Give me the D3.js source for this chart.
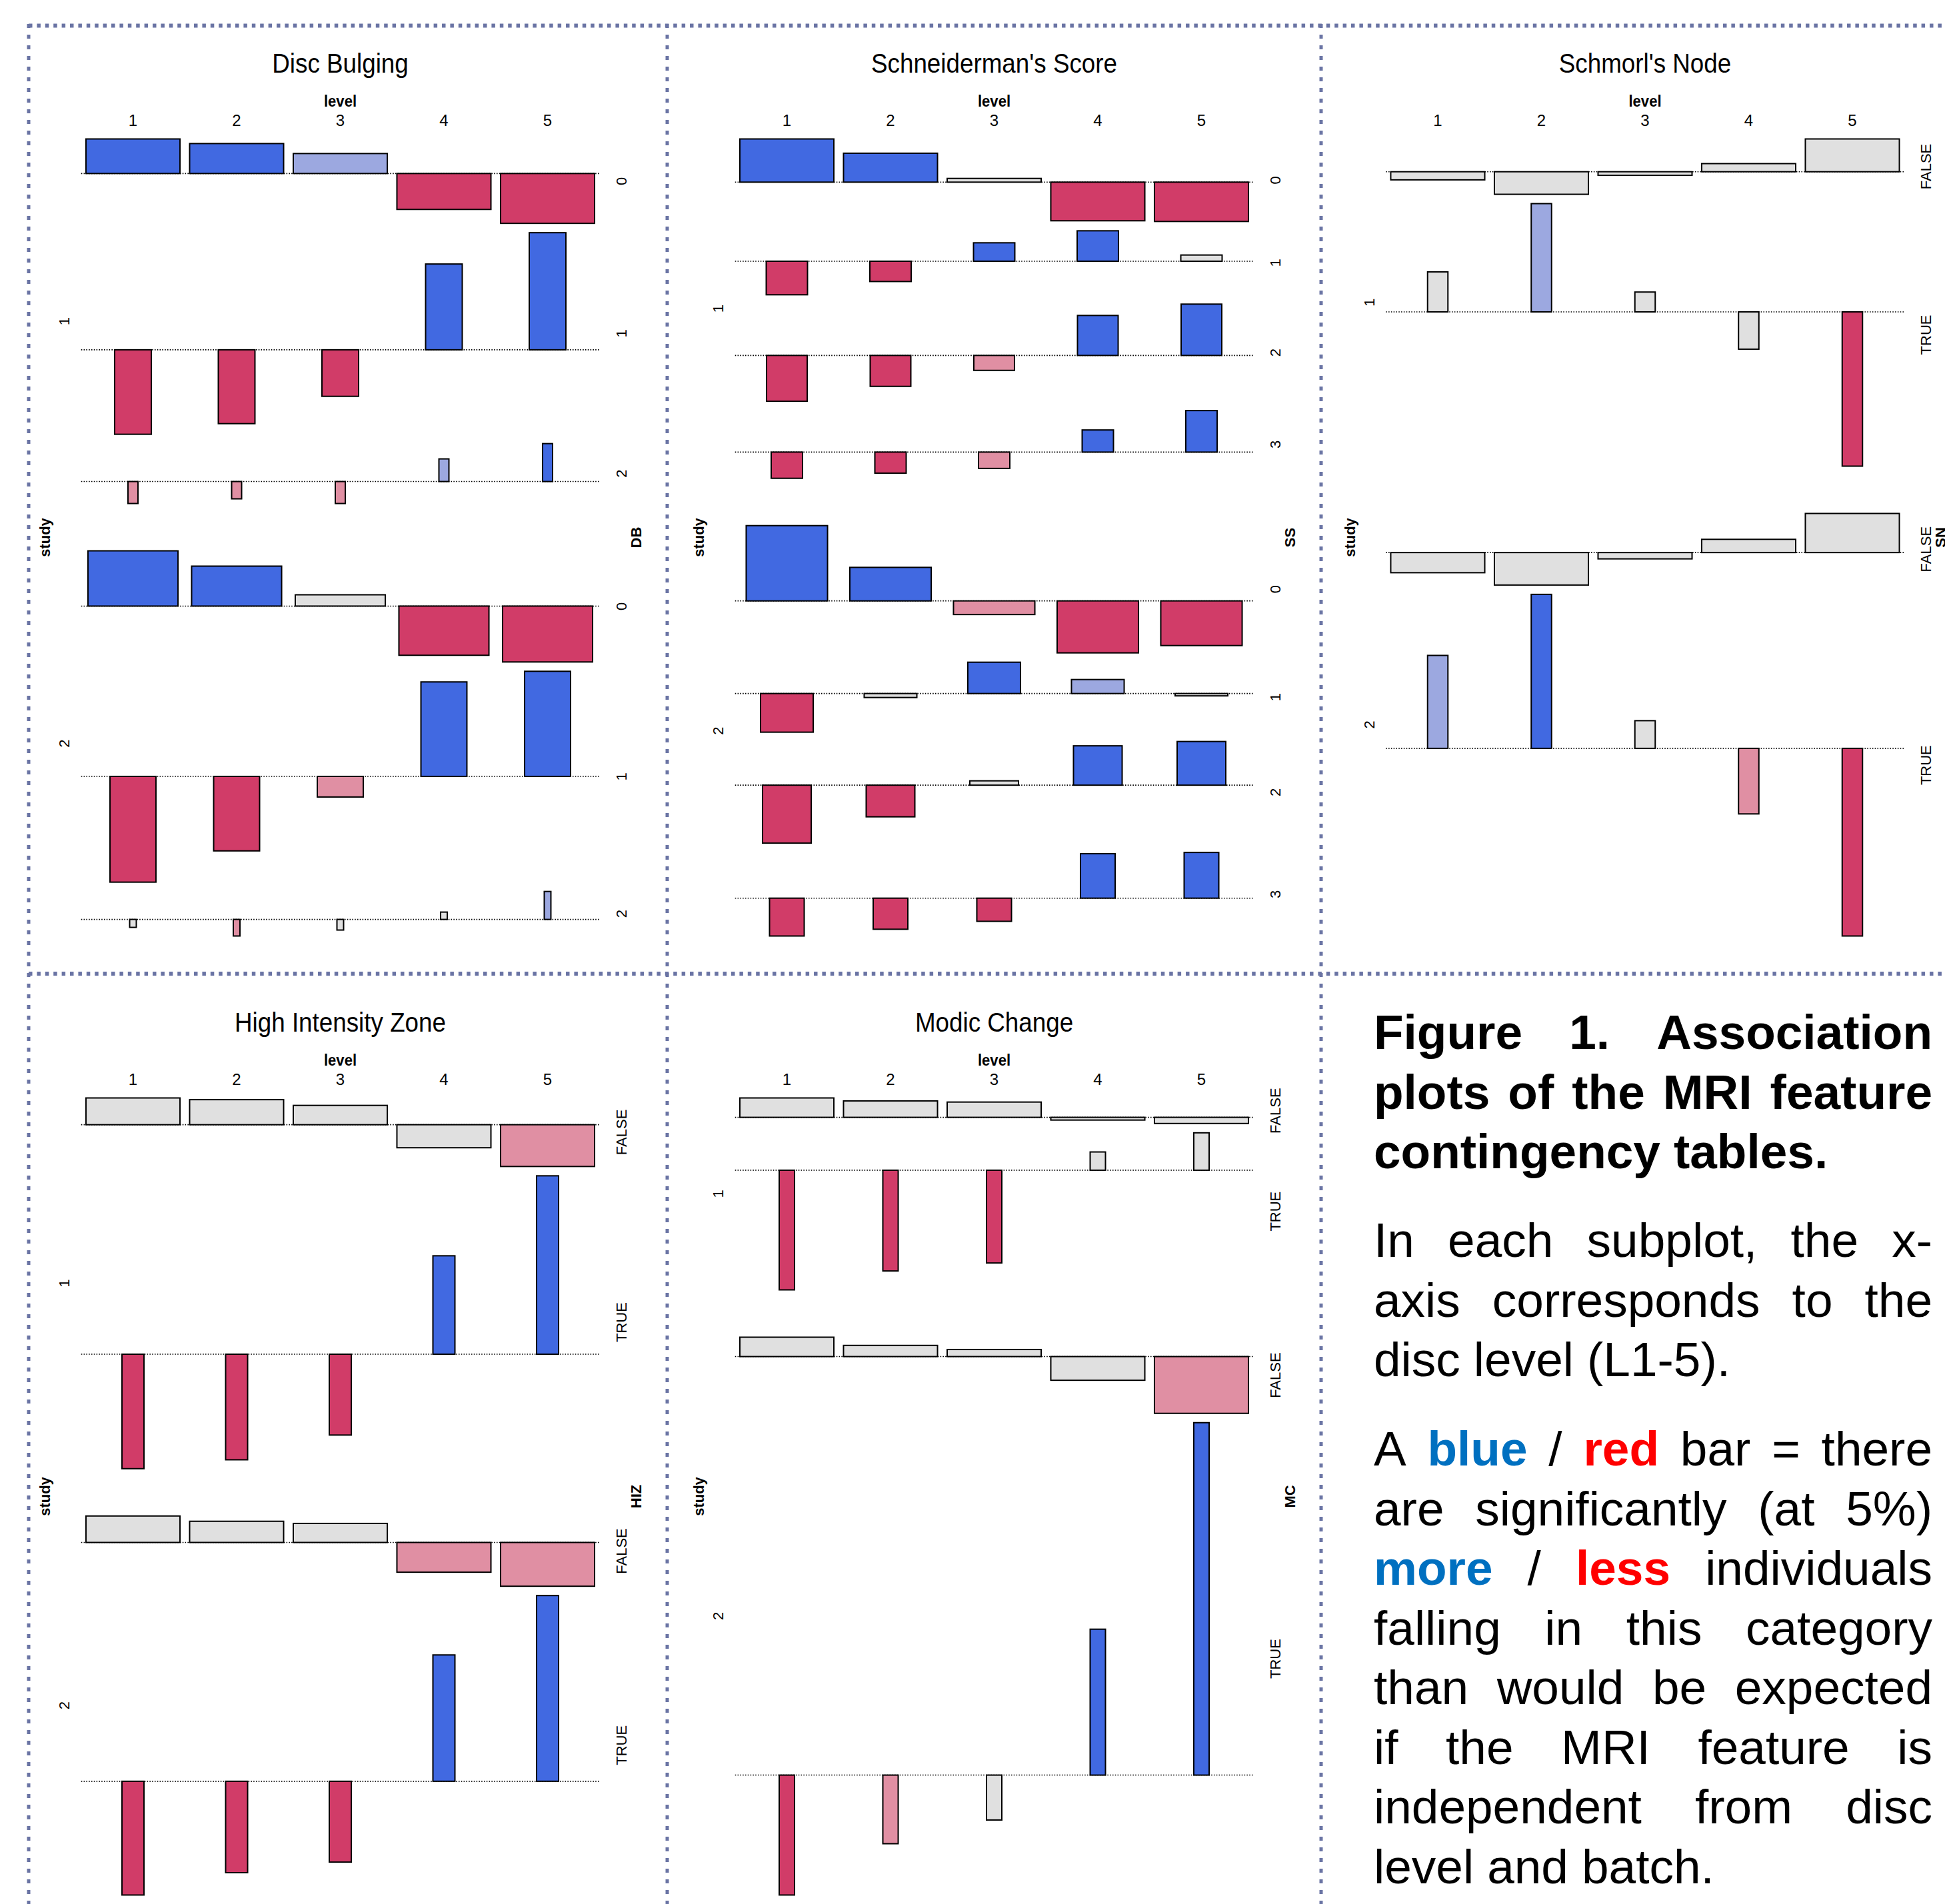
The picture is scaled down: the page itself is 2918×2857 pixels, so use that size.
<!DOCTYPE html>
<html>
<head>
<meta charset="utf-8">
<script src="https://cdn.jsdelivr.net/npm/d3@7"></script>
<style>
  body { margin: 0; background: #fff; }
  svg { display: block; }
</style>
</head>
<body>
<svg width="2918" height="2857"></svg>
<script>
// ---- data ----
var levels = ["1", "2", "3", "4", "5"];
var studies = ["1", "2"];
var tf = ["FALSE", "TRUE"];

// Disc Bulging
var dbLevels = ["0", "1", "2"];
var dbExpected = [[100, 15.2, 1.13], [91.7, 23.9, 0.5]];
var dbResiduals = [
    [[4.81, 4.17, 2.78, -5.0, -6.94], [-11.76, -10.28, -6.48, 11.94, 16.3], [-3.06, -2.41, -3.06, 3.15, 5.28]],
    [[7.69, 5.56, 1.57, -6.85, -7.78], [-14.72, -10.37, -2.87, 13.15, 14.63], [-1.11, -2.31, -1.48, 1.02, 3.89]]
];

// Schneiderman's Score
var ssLevels = ["0", "1", "2", "3"];
var ssExpected = [[100, 19.3, 18.7, 11.1], [74.9, 31.4, 26.8, 13.6]];
var ssResiduals = [
    [[9.97, 6.68, 0.86, -8.92, -9.08], [-7.75, -4.69, 4.25, 7.02, 1.43], [-10.58, -7.14, -3.45, 9.23, 11.85], [-6.05, -4.86, -3.77, 5.11, 9.58]],
    [[17.38, 7.74, -3.15, -12.0, -10.31], [-8.92, -0.92, 7.23, 3.23, -0.54], [-13.38, -7.31, 1.0, 9.08, 10.08], [-8.74, -7.18, -5.35, 10.26, 10.55]]
];

// Schmorl's Node
var snExpected = [[100, 4.68], [100, 4.68]];
var snResiduals = [
    [[-0.27, -0.75, -0.12, 0.27, 1.09], [1.33, 3.6, 0.66, -1.24, -5.13]],
    [[-0.67, -1.08, -0.21, 0.44, 1.3], [3.09, 5.12, 0.92, -2.18, -6.24]]
];

// High Intensity Zone
var hizExpected = [[100, 5.48], [100, 5.48]];
var hizResiduals = [
    [[1.87, 1.75, 1.35, -1.61, -2.92], [-8.0, -7.38, -5.65, 6.88, 12.47]],
    [[1.85, 1.48, 1.33, -2.08, -3.06], [-7.95, -6.39, -5.65, 8.83, 12.98]]
];

// Modic Change
var mcExpected = [[100, 2.66], [100, 2.66]];
var mcResiduals = [
    [[0.85, 0.72, 0.67, -0.12, -0.27], [-5.25, -4.42, -4.07, 0.8, 1.64]],
    [[0.85, 0.49, 0.31, -1.04, -2.49], [-5.26, -3.01, -1.97, 6.4, 15.46]]
];

var captionTitle = ["Figure 1. Association", "plots of the MRI feature", "contingency tables."];
var captionAxis = ["In each subplot, the x-", "axis corresponds to the", "disc level (L1-5)."];
var captionColour = ["A blue / red bar = there", "are significantly (at 5%)", "more / less individuals",
    "falling in this category", "than would be expected", "if the MRI feature is",
    "independent from disc", "level and batch."];

// ---- layout ----
var font = "Liberation Sans, Arial, Helvetica, sans-serif";
var band = 155.5;
var gapIn = 14, gapOut = 71;
var plotH = 1196;

var panels = [
    { title: "Disc Bulging", name: "DB", rowLevels: dbLevels, expected: dbExpected, residuals: dbResiduals, cx: 199.5, t: 109 },
    { title: "Schneiderman's Score", name: "SS", rowLevels: ssLevels, expected: ssExpected, residuals: ssResiduals, cx: 1180.5, t: 109 },
    { title: "Schmorl's Node", name: "SN", rowLevels: tf, expected: snExpected, residuals: snResiduals, cx: 2157, t: 109 },
    { title: "High Intensity Zone", name: "HIZ", rowLevels: tf, expected: hizExpected, residuals: hizResiduals, cx: 199.5, t: 1548 },
    { title: "Modic Change", name: "MC", rowLevels: tf, expected: mcExpected, residuals: mcResiduals, cx: 1180.5, t: 1548 }
];

var svg = d3.select("svg");
svg.append("rect").attr("width", 2918).attr("height", 2857).attr("fill", "#fff");

function shade(v) {
    var a = Math.abs(v);
    if (a >= 4) return v > 0 ? "#4169E1" : "#D13C68";
    if (a >= 2) return v > 0 ? "#9CA8E0" : "#E08FA3";
    return "#E0E0E0";
}

function vtext(g, x, y, txt, bold) {
    g.append("text")
        .attr("transform", "translate(" + x + "," + y + ") rotate(-90)")
        .attr("text-anchor", "middle")
        .attr("dominant-baseline", "central")
        .attr("font-family", font)
        .attr("font-size", 22)
        .attr("font-weight", bold ? "bold" : "normal")
        .text(txt);
}

function drawPanel(p) {
    var g = svg.append("g");
    var x0 = p.cx - band / 2;
    var x = d3.scaleBand().domain(levels).range([x0, x0 + band * levels.length]);
    var maxE = d3.max(p.expected, function(r) { return d3.max(r); });
    var w = d3.scaleSqrt().domain([0, maxE]).range([0, x.bandwidth() * 0.907]);

    var rows = [];
    studies.forEach(function(s, si) {
        p.rowLevels.forEach(function(lv, ri) {
            var res = p.residuals[si][ri];
            rows.push({ si: si, label: lv, E: p.expected[si][ri], res: res,
                up: Math.max(0, d3.max(res)), down: Math.max(0, -d3.min(res)) });
        });
    });
    var total = d3.sum(rows, function(r) { return r.up + r.down; });
    var avail = plotH - (rows.length - studies.length) * gapIn - (studies.length - 1) * gapOut;
    var y = d3.scaleLinear().domain([0, total]).range([0, avail]);

    var top = p.t + 99.5;
    var cur = top;
    rows.forEach(function(r, i) {
        if (i > 0) cur += (r.si !== rows[i - 1].si) ? gapOut : gapIn;
        r.y0 = cur;
        r.base = cur + y(r.up);
        r.y1 = r.base + y(r.down);
        cur = r.y1;
    });
    var bottom = cur;

    // title + level axis
    g.append("text")
        .attr("transform", "translate(" + (x0 + band * 2.5) + "," + p.t + ") scale(0.92,1)")
        .attr("text-anchor", "middle")
        .attr("font-family", font)
        .attr("font-size", 40)
        .text(p.title);
    g.append("text")
        .attr("transform", "translate(" + (x0 + band * 2.5) + "," + (p.t + 51) + ") scale(0.92,1)")
        .attr("text-anchor", "middle")
        .attr("font-family", font)
        .attr("font-weight", "bold")
        .attr("font-size", 24)
        .text("level");
    var ax = g.append("g")
        .attr("transform", "translate(0," + (p.t + 80) + ")")
        .call(d3.axisTop(x).tickSize(0).tickPadding(0));
    ax.select(".domain").remove();
    ax.selectAll("text").attr("font-family", font).attr("font-size", 24).attr("fill", "#000");

    // baselines
    g.selectAll(".base")
        .data(rows)
        .enter()
        .append("line")
        .attr("x1", x.range()[0])
        .attr("x2", x.range()[1])
        .attr("y1", function(r) { return r.base; })
        .attr("y2", function(r) { return r.base; })
        .attr("stroke", "#000")
        .attr("stroke-width", 1.6)
        .attr("stroke-dasharray", "1.6,2.2");

    // bars
    rows.forEach(function(r) {
        var bw = w(r.E);
        g.selectAll(null)
            .data(r.res)
            .enter()
            .append("rect")
            .attr("x", function(v, i) { return x(levels[i]) + x.bandwidth() / 2 - bw / 2; })
            .attr("y", function(v) { return v > 0 ? r.base - y(v) : r.base; })
            .attr("width", bw)
            .attr("height", function(v) { return y(Math.abs(v)); })
            .attr("fill", shade)
            .attr("stroke", "#000")
            .attr("stroke-width", 2);
    });

    // row labels (right) and study labels (left)
    var x1 = x.range()[1];
    rows.forEach(function(r) { vtext(g, x1 + 33, (r.y0 + r.y1) / 2, r.label, false); });
    vtext(g, x1 + 55, (top + bottom) / 2, p.name, true);
    studies.forEach(function(s, si) {
        var sr = rows.filter(function(r) { return r.si === si; });
        vtext(g, x0 - 25, (sr[0].y0 + sr[sr.length - 1].y1) / 2, s, false);
    });
    vtext(g, x0 - 54, (top + bottom) / 2, "study", true);
}

panels.forEach(drawPanel);

// dashed frame
var frame = svg.append("g").attr("stroke", "#6A74A4").attr("stroke-width", 6);
[[43, 38.5, 2918, 38.5], [43, 1461, 2918, 1461]].forEach(function(l) {
    frame.append("line").attr("x1", l[0]).attr("y1", l[1]).attr("x2", l[2]).attr("y2", l[3])
        .attr("stroke-dasharray", "5.5,6.9");
});
[[43, 36, 43, 2857], [1001, 36, 1001, 2857], [1982, 36, 1982, 2857]].forEach(function(l) {
    frame.append("line").attr("x1", l[0]).attr("y1", l[1]).attr("x2", l[2]).attr("y2", l[3])
        .attr("stroke-width", 5)
        .attr("stroke-dasharray", "6,10");
});

// caption
var highlight = { blue: "#0070C0", more: "#0070C0", red: "#FF0000", less: "#FF0000" };
var cap = svg.append("g").attr("font-family", font).attr("font-size", 73);
var capLeft = 2061, capRight = 2899, lineH = 89.5;

function writeParagraph(lines, y0, bold) {
    lines.forEach(function(line, li) {
        var words = line.split(" ");
        var yy = y0 + li * lineH;
        var nodes = words.map(function(wd) {
            return cap.append("text")
                .attr("y", yy)
                .attr("font-weight", bold || highlight[wd] ? "bold" : "normal")
                .attr("fill", highlight[wd] || "#000")
                .text(wd);
        });
        var widths = nodes.map(function(n) { return n.node().getComputedTextLength(); });
        var last = li === lines.length - 1;
        var gap = last ? 20 : (capRight - capLeft - d3.sum(widths)) / (words.length - 1);
        var cx = capLeft;
        nodes.forEach(function(n, i) { n.attr("x", cx); cx += widths[i] + gap; });
    });
}

writeParagraph(captionTitle, 1574, true);
writeParagraph(captionAxis, 1886, false);
writeParagraph(captionColour, 2199, false);
</script>
</body>
</html>
